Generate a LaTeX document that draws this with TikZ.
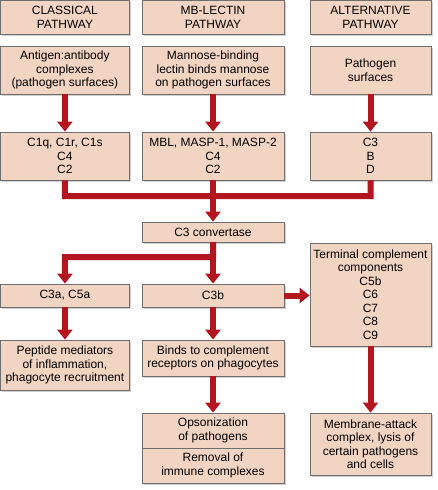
\documentclass[tikz,border=0pt]{standalone}
\usepackage{fontspec}
\setmainfont{Liberation Sans}
\usetikzlibrary{arrows.meta,shadows}
\definecolor{boxfill}{HTML}{F2D4C3}
\definecolor{boxline}{HTML}{6E6E6E}
\definecolor{flowred}{HTML}{B4161F}
\newcommand\bx[6]{%
  \pgfmathsetmacro\mybw{#4-#2}\pgfmathsetmacro\mybh{#5-#3}%
  \node[box, minimum width=\mybw pt, minimum height=\mybh pt] (#1) at ({(#2+#4)/2},{(#3+#5)/2}) {#6};}
\begin{document}
\begin{tikzpicture}[x=1pt,y=-1pt,
  box/.style={draw=boxline, fill=boxfill, line width=0.8pt, inner sep=0pt, align=center,
    font=\fontsize{12}{13.5}\selectfont,
    drop shadow={shadow xshift=1.6pt, shadow yshift=-1.6pt, opacity=0.3, fill=black!60}},
  redline/.style={draw=flowred, line width=6pt, line join=miter},
  redarrow/.style={redline, -{Triangle[width=15pt,length=10pt]}}]
\useasboundingbox (0,0) rectangle (438,490);
% headers
\bx{h1}{0.8}{0.8}{129}{34}{CLASSICAL\\PATHWAY}
\bx{h2}{142}{0.8}{284}{34}{MB-LECTIN\\PATHWAY}
\bx{h3}{310}{0.8}{431}{34}{ALTERNATIVE\\PATHWAY}
% triggers
\bx{a1}{0.8}{46}{129}{94}{Antigen:antibody\\complexes\\(pathogen surfaces)}
\bx{a2}{142}{46}{284}{94}{Mannose-binding\\lectin binds mannose\\on pathogen surfaces}
\bx{a3}{310}{46}{431}{94}{Pathogen\\surfaces}
% components
\bx{b1}{0.8}{132}{129}{180}{C1q, C1r, C1s\\C4\\C2}
\bx{b2}{142}{132}{284}{180}{MBL, MASP-1, MASP-2\\C4\\C2}
\bx{b3}{310}{132}{431}{180}{C3\\B\\D}
% convertase
\bx{conv}{142}{222}{284}{242}{C3 convertase}
\bx{term}{310}{243}{431}{346}{Terminal complement\\components\\C5b\\C6\\C7\\C8\\C9}
\bx{c3a}{0.8}{284}{129}{307}{C3a, C5a}
\bx{c3b}{142}{284}{284}{307}{C3b}
\bx{pep}{0.8}{340}{129}{390}{Peptide mediators\\of inflammation,\\phagocyte recruitment}
\bx{binds}{142}{340}{284}{376}{Binds to complement\\receptors on phagocytes}
\bx{ops}{142}{413}{284}{448}{Opsonization\\of pathogens}
\bx{rem}{142}{448}{284}{483}{Removal of\\immune complexes}
\bx{mem}{310}{413}{431}{475}{Membrane-attack\\complex, lysis of\\certain pathogens\\and cells}
% connectors
\draw[redarrow] (a1.south) -- (b1.north);
\draw[redarrow] (a2.south) -- (b2.north);
\draw[redarrow] (a3.south) -- (b3.north);
\coordinate (jl) at (65,196);
\coordinate (jr) at (370.5,196);
\draw[redline] (b1.south) -- (jl) -- (jr) -- (b3.south);
\draw[redarrow] (b2.south) -- (conv.north);
\coordinate (sp) at (65,257);
\draw[redarrow] (conv.south) |- (sp) -- (c3a.north);
\draw[redarrow] (conv.south) -- (c3b.north);
\draw[redarrow] (c3b.east) -- (c3b.east -| term.west);
\draw[redarrow] (c3a.south) -- (pep.north);
\draw[redarrow] (c3b.south) -- (binds.north);
\draw[redarrow] (binds.south) -- (ops.north);
\draw[redarrow] (term.south) -- (mem.north);
\end{tikzpicture}
\end{document}
